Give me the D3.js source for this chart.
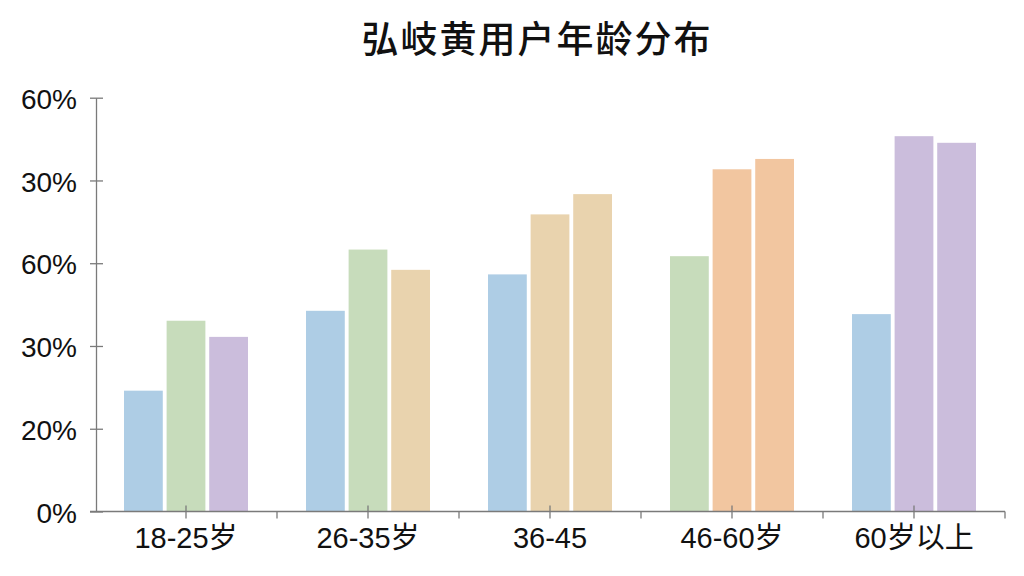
<!DOCTYPE html>
<html>
<head>
<meta charset="utf-8">
<script src="https://cdn.jsdelivr.net/npm/d3@7"></script>
<style>
  html, body { margin: 0; padding: 0; background: #fff; }
  text { font-family: Arial, "Liberation Sans", "Noto Sans CJK SC", sans-serif; fill: #111; }
</style>
</head>
<body>
<div id="chart"></div>
<script>
// values (scale units: 0 at the baseline, 100 at the top tick)
const categories = ["18-25岁", "26-35岁", "36-45", "46-60岁", "60岁以上"];
const firstBar  = [29.2, 48.5, 57.3, 61.7, 47.7];
const secondBar = [46.1, 63.3, 71.8, 82.7, 90.7];
const thirdBar  = [42.2, 58.4, 76.7, 85.2, 89.1];
const yTicks = [0, 20, 40, 60, 80, 100];
const yTickLabels = ["0%", "20%", "30%", "60%", "30%", "60%"];

// colour of each bar, group by group
const blue = "#aecde5", green = "#c7dcbb", purple = "#cbbddc", tan = "#e9d3ae", orange = "#f2c6a0";
const barColors = [
  [blue, green, purple],
  [blue, green, tan],
  [blue, tan, tan],
  [green, orange, orange],
  [blue, purple, purple]
];

const width = 1024, height = 576;
const margin = {top: 97.7, right: 19, bottom: 64.5, left: 95};

const svg = d3.select("#chart")
  .append("svg")
    .attr("width", width)
    .attr("height", height);

// title
svg.append("text")
  .attr("x", 537)
  .attr("y", 53)
  .attr("text-anchor", "middle")
  .style("font-size", "37px")
  .style("font-weight", 500)
  .style("letter-spacing", "2px")
  .style("font-family", "'Noto Sans CJK SC', sans-serif")
  .text("弘岐黄用户年龄分布");

const x = d3.scaleBand()
  .domain(categories)
  .range([margin.left, width - margin.right]);

const xSub = d3.scaleBand()
  .domain([0, 1, 2])
  .range([-62, 62])
  .paddingInner(0.09);

const y = d3.scaleLinear()
  .domain([0, 100])
  .range([height - margin.bottom, margin.top]);

const rows = categories.map((c, i) => ({
  cat: c,
  vals: [firstBar[i], secondBar[i], thirdBar[i]],
  cols: barColors[i]
}));

// bars
const groups = svg.append("g")
  .selectAll("g")
  .data(rows)
  .join("g")
    .attr("transform", d => `translate(${x(d.cat) + x.bandwidth() / 2},0)`);

groups.selectAll("rect")
  .data(d => d.vals.map((v, k) => ({k, v, c: d.cols[k]})))
  .join("rect")
    .attr("x", d => xSub(d.k))
    .attr("y", d => y(d.v))
    .attr("width", xSub.bandwidth())
    .attr("height", d => y(0) - y(d.v))
    .attr("fill", d => d.c);

const axisColor = "#7a7a7a";

// Y axis
const yAxis = svg.append("g")
  .attr("transform", `translate(96,0)`)
  .call(d3.axisLeft(y).tickValues(yTicks).tickFormat((d, i) => yTickLabels[i]).tickSizeOuter(0));

yAxis.select(".domain").attr("stroke", axisColor).attr("stroke-width", 1.3);
yAxis.selectAll(".tick line")
  .attr("x1", -6).attr("x2", 7)
  .attr("stroke", axisColor).attr("stroke-width", 1.3);
yAxis.selectAll(".tick text")
  .attr("x", -19)
  .attr("dy", "0.38em")
  .style("font-size", "28px")
  .style("font-family", "Arial, 'Liberation Sans', sans-serif")
  .attr("fill", "#111");

// X axis
const xAxis = svg.append("g")
  .attr("transform", `translate(0,${y(0)})`)
  .call(d3.axisBottom(x).tickSizeOuter(0));

xAxis.select(".domain")
  .attr("d", `M90,0H${width - margin.right}`)
  .attr("stroke", axisColor).attr("stroke-width", 1.3);
xAxis.selectAll(".tick line")
  .attr("y1", -6).attr("y2", 7)
  .attr("stroke", axisColor).attr("stroke-width", 1.3);
xAxis.selectAll(".tick text")
  .attr("y", 36)
  .attr("dy", 0)
  .style("font-size", "29px")
  .style("font-family", "Arial, 'Liberation Sans', 'Noto Sans CJK SC', sans-serif")
  .attr("fill", "#111");

// small ticks on the group boundaries
const bounds = categories.map(c => x(c)).concat([x(categories[categories.length - 1]) + x.bandwidth()]);
xAxis.selectAll(".bound")
  .data(bounds.slice(1))
  .join("line")
    .attr("class", "bound")
    .attr("x1", d => d).attr("x2", d => d)
    .attr("y1", 0).attr("y2", 7)
    .attr("stroke", axisColor).attr("stroke-width", 1.3);
</script>
</body>
</html>
